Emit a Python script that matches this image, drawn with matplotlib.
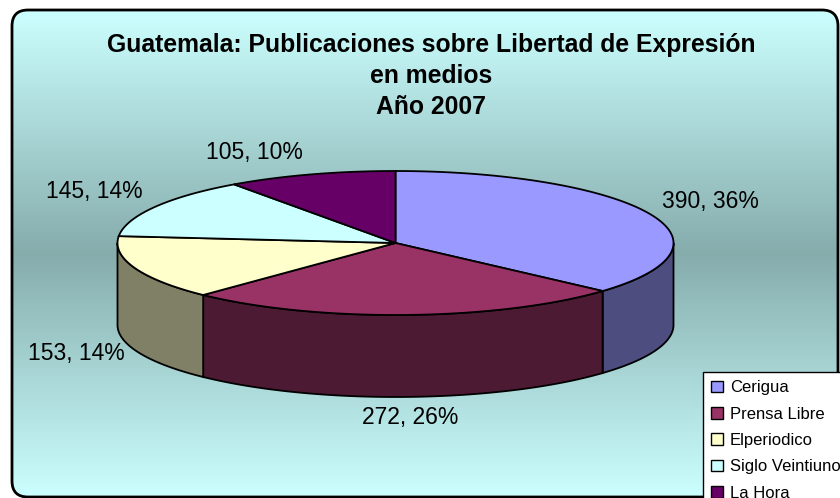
import numpy as np
import matplotlib
matplotlib.use('Agg')
import matplotlib.pyplot as plt
import matplotlib.patches as patches
from matplotlib.colors import to_rgb

plt.rcParams['font.family'] = ['Liberation Sans', 'DejaVu Sans']

# datos
medios = ['Cerigua', 'Prensa Libre', 'Elperiodico', 'Siglo Veintiuno', 'La Hora']
publicaciones = [390, 272, 153, 145, 105]
porcentajes = [36, 26, 14, 14, 10]
colores = ['#9999FF', '#993366', '#FFFFCC', '#CCFFFF', '#660066']

titulo = 'Guatemala: Publicaciones sobre Libertad de Expresión\nen medios\nAño 2007'

# posiciones de las etiquetas (pixeles)
etiquetas_xy = [(710, 201), (410, 417), (76, 353), (94, 191), (254, 152)]

# geometria del pastel 3D (pixeles)
CX, CY, RX, RY, PROF = 395.5, 243, 278, 72, 82
W, H = 840, 498


def punto(theta, z=0.0):
    """punto sobre la elipse superior (theta horario desde arriba)"""
    return CX + RX * np.sin(theta), CY - RY * np.cos(theta) + z


fig = plt.figure(figsize=(W / 100, H / 100), dpi=100, facecolor='white')
ax = fig.add_axes([0, 0, 1, 1])
ax.set_xlim(0, W)
ax.set_ylim(H, 0)
ax.axis('off')

# fondo con degradado y borde redondeado
marco = patches.FancyBboxPatch((12, 10), 826, 487,
                               boxstyle='round,pad=0,rounding_size=16',
                               facecolor='none', edgecolor='black',
                               linewidth=2, zorder=3)
claro = np.array(to_rgb('#CCFFFF'))
oscuro = np.array(to_rgb('#86ACAC'))
yy = np.linspace(0, 1, 300)
peso = 1 - np.abs(yy - 0.5) * 2
grad = claro[None, :] * (1 - peso[:, None]) + oscuro[None, :] * peso[:, None]
img = ax.imshow(np.repeat(grad[:, None, :], 2, axis=1), extent=[12, 838, 497, 10],
                aspect='auto', interpolation='bilinear', zorder=0)
ax.add_patch(marco)
clip = patches.FancyBboxPatch((12, 10), 826, 487,
                              boxstyle='round,pad=0,rounding_size=16',
                              transform=ax.transData, facecolor='none', edgecolor='none')
ax.add_patch(clip)
img.set_clip_path(clip)

total = sum(publicaciones)
bordes = np.concatenate([[0], np.cumsum(publicaciones) / total]) * 2 * np.pi

# paredes laterales (mitad frontal)
for i, c in enumerate(colores):
    lo = max(bordes[i], np.pi / 2)
    hi = min(bordes[i + 1], 3 * np.pi / 2)
    if lo >= hi:
        continue
    ts = np.linspace(lo, hi, 120)
    xs, ys = punto(ts)
    xb, yb = punto(ts[::-1], PROF)
    pts = np.column_stack([np.concatenate([xs, xb]), np.concatenate([ys, yb])])
    lado = np.array(to_rgb(c)) * 0.5
    ax.add_patch(patches.Polygon(pts, closed=True, facecolor=lado,
                                 edgecolor='black', linewidth=1.3, zorder=1))

# caras superiores
for i, c in enumerate(colores):
    ts = np.linspace(bordes[i], bordes[i + 1], 200)
    xs, ys = punto(ts)
    pts = np.column_stack([np.concatenate([[CX], xs]), np.concatenate([[CY], ys])])
    ax.add_patch(patches.Polygon(pts, closed=True, facecolor=c,
                                 edgecolor='black', linewidth=1.3, zorder=2))

# etiquetas de datos
for (x, y), v, p in zip(etiquetas_xy, publicaciones, porcentajes):
    ax.text(x, y, f'{v}, {p}%', ha='center', va='center', fontsize=16.5,
            color='black', zorder=4)

ax.text(431, 76, titulo, ha='center', va='center', fontsize=17.8,
        fontweight='bold', linespacing=1.38, zorder=4)

# leyenda (recortada por el borde, como en el original)
manijas = [patches.Patch(facecolor=c, edgecolor='black', linewidth=1) for c in colores]
leg = fig.legend(manijas, medios, loc='upper left',
                 bbox_to_anchor=(703 / W, 1 - 372 / H), frameon=True,
                 fancybox=False, edgecolor='black', framealpha=1,
                 fontsize=12, handlelength=0.7, handleheight=0.7,
                 handletextpad=0.4, labelspacing=0.68, borderpad=0.5,
                 borderaxespad=0)
leg.get_frame().set_linewidth(1)

plt.savefig('out.png', dpi=100)
plt.close()
